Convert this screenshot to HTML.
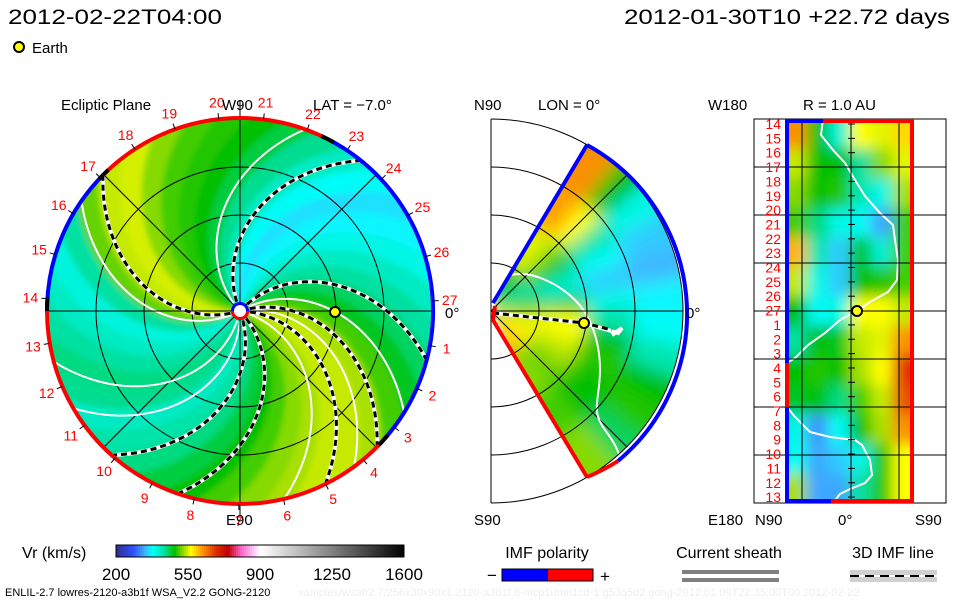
<!DOCTYPE html>
<html><head><meta charset="utf-8"><style>
html,body{margin:0;padding:0;background:#fff;}
svg{display:block;font-family:"Liberation Sans",sans-serif;}
</style></head><body>
<svg id="root" width="960" height="600" viewBox="0 0 960 600" xmlns="http://www.w3.org/2000/svg">
<defs>
  <filter id="blurL" x="-10%" y="-10%" width="120%" height="120%"><feGaussianBlur stdDeviation="3"/></filter>
  <filter id="blurM" x="-10%" y="-10%" width="120%" height="120%"><feGaussianBlur stdDeviation="9"/></filter>
  <filter id="blurR" x="-20%" y="-10%" width="140%" height="120%"><feGaussianBlur stdDeviation="7"/></filter>
  <clipPath id="clipL"><circle cx="240" cy="311" r="193"/></clipPath>
  <clipPath id="clipM"><path d="M491,311 L587,145 A192,192 0 0 1 587,477 Z"/></clipPath>
  <clipPath id="clipR"><rect x="785" y="119" width="129" height="384"/></clipPath>
</defs>
<g font-size="21" fill="#000">
  <text x="8" y="24" textLength="214" lengthAdjust="spacingAndGlyphs">2012-02-22T04:00</text>
  <text x="624" y="24" textLength="326" lengthAdjust="spacingAndGlyphs">2012-01-30T10 +22.72 days</text>
</g>
<g>
  <circle cx="19" cy="47" r="5" fill="#ffff00" stroke="#000" stroke-width="2"/>
  <text x="32" y="53" font-size="15">Earth</text>
</g>
<g id="left"></g>
<g id="mid"></g>
<g id="right"></g>
<g id="bottom"></g>
</svg>
<script>
// ---------- data ----------
const colorStops = [[200,'#303090'],[280,'#3050ff'],[340,'#40b8ff'],[375,'#00ffff'],[430,'#00e0a0'],[480,'#00c000'],[530,'#a8e000'],[560,'#ffff00'],[610,'#ffa000'],[680,'#e03000'],[740,'#c00000'],[800,'#ff60c0'],[870,'#ffd0ff'],[900,'#ffffff'],[1600,'#000000']];
const colorbarTicks = [200,550,900,1250,1600];
// ecliptic speed by footpoint longitude (10 deg bins starting 0)
const eclipticSpeeds = [540,530,500,470,450,430,410,390,370,360,380,410,435,460,480,490,500,520,545,540,510,430,395,410,430,440,435,410,425,440,460,480,500,520,530,540];
const dashedBoundaries = [197,290,313,358,17,47,113];
const whiteBoundaries = [132,207,257,272,345,8,30];
const carringtonLabels = [27,1,2,3,4,5,6,7,8,9,10,11,12,13,14,15,16,17,18,19,20,21,22,23,24,25,26];
// meridional cells: rows lat 60..-60 (10 deg), cols radial bins (48 px)
const meridSpeeds = [
 [480,550,610,620],[490,520,560,480],[400,480,430,390],[430,420,380,350],
 [470,400,350,340],[500,480,390,370],[540,560,430,380],[550,560,480,420],
 [560,540,490,480],[580,530,480,490],[560,500,480,450],[600,520,500,520]];
// 1 AU sphere cells: 13 rows (top W180 -> E180) x 6 cols (N90 -> S90)
const sphereSpeeds = [
 [620,480,400,560,550,580],[540,480,480,430,520,550],[520,480,490,420,390,530],
 [500,440,390,380,330,500],[600,420,350,470,400,500],[540,390,350,480,490,500],
 [480,380,390,560,560,540],[430,480,470,540,550,620],[480,490,480,530,560,680],
 [470,480,440,500,540,660],[390,320,380,480,530,620],[380,330,350,390,490,560],
 [530,330,330,430,490,560]];
// ---------- helpers ----------
const NS='http://www.w3.org/2000/svg';
function hex(h){return [parseInt(h.substr(1,2),16),parseInt(h.substr(3,2),16),parseInt(h.substr(5,2),16)];}
function vColor(v){
  if(v<=colorStops[0][0]) return colorStops[0][1];
  for(let i=1;i<colorStops.length;i++){
    if(v<=colorStops[i][0]){
      const a=colorStops[i-1],b=colorStops[i],t=(v-a[0])/(b[0]-a[0]);
      const ca=hex(a[1]),cb=hex(b[1]);
      return 'rgb('+ca.map((c,j)=>Math.round(c+(cb[j]-c)*t)).join(',')+')';
    }
  }
  return colorStops[colorStops.length-1][1];
}
function el(tag,attrs,parent){const e=document.createElementNS(NS,tag);for(const k in attrs)e.setAttribute(k,attrs[k]);if(parent)parent.appendChild(e);return e;}
function txt(parent,x,y,s,size,fill,anchor){const t=el('text',{x:x,y:y,'font-size':size,fill:fill||'#000','text-anchor':anchor||'start'},parent);t.textContent=s;return t;}
const rad=d=>d*Math.PI/180;

// ---------- left ecliptic panel ----------
const L=document.getElementById('left');
const cx=240,cy=311,R=193,K=0.32;
const pol=(r,a)=>[cx+r*Math.cos(rad(a)),cy-r*Math.sin(rad(a))];
const spiralPts=(phi0,r0,r1)=>{const p=[];for(let r=r0;r<=r1;r+=4)p.push(pol(r,phi0-K*r));return p;};
const lclip=el('g',{'clip-path':'url(#clipL)'},L);
const field=el('g',{filter:'url(#blurL)'},lclip);
el('circle',{cx:cx,cy:cy,r:R+10,fill:vColor(440)},field);
eclipticSpeeds.forEach((v,i)=>{
  const a=i*10-1,b=i*10+11;
  const pts=spiralPts(a,0,R+16).concat(spiralPts(b,0,R+16).reverse());
  const p=el('polygon',{points:pts.map(q=>q.join(',')).join(' '),fill:vColor(v)},field);
  
  
});
const grid=el('g',{stroke:'#000','stroke-width':1,fill:'none'},lclip);
[48,96,144].forEach(r=>el('circle',{cx:cx,cy:cy,r:r},grid));
[45,135].forEach(a=>{const p1=pol(R,a),p2=pol(R,a+180);el('line',{x1:p1[0],y1:p1[1],x2:p2[0],y2:p2[1]},grid);});
whiteBoundaries.forEach(phi0=>{
  const p=el('polyline',{points:spiralPts(phi0,10,R+4).map(q=>q.join(',')).join(' '),fill:'none',stroke:'#fff','stroke-width':2},lclip);
  
  
});
dashedBoundaries.forEach(phi0=>{
  const pts=spiralPts(phi0,10,R+4).map(q=>q.join(',')).join(' ');
  el('polyline',{points:pts,fill:'none',stroke:'#fff','stroke-width':4},lclip);
  const p=el('polyline',{points:pts,fill:'none',stroke:'#000','stroke-width':3,'stroke-dasharray':'6,4'},lclip);
  
  
});
el('line',{x1:cx-R,y1:cy,x2:cx+R,y2:cy,stroke:'#000'},L);
el('line',{x1:cx,y1:100,x2:cx,y2:515,stroke:'#000'},L);
function arc(r,a1,a2,color,w,parent){const p1=pol(r,a1),p2=pol(r,a2);const large=Math.abs(a2-a1)>180?1:0;
  return el('path',{d:`M${p1[0]},${p1[1]} A${r},${r} 0 ${large} ${a2>a1?0:1} ${p2[0]},${p2[1]}`,fill:'none',stroke:color,'stroke-width':w},parent);}
const bnd=el('g',{},L);
arc(R,63,135,'#ff0000',4,bnd);arc(R,135,178,'#0000ff',4,bnd);arc(R,178,318,'#ff0000',4,bnd);arc(R,-42,63,'#0000ff',4,bnd);
[63,135,178,318].forEach(a=>arc(R,a-2,a+2,'#000',4,bnd));
carringtonLabels.forEach((n,i)=>{
  const a=3-i*360/27;
  const t1=pol(R,a),t2=pol(R+6,a);
  el('line',{x1:t1[0],y1:t1[1],x2:t2[0],y2:t2[1],stroke:'#000'},L);
  const p=pol(R+17,a);
  const t=txt(L,p[0],p[1]+5,String(n),14,'#ff0000','middle');
  
  
});
el('circle',{cx:cx,cy:cy,r:9,fill:'#0000ff'},L);
el('path',{d:`M${cx-9},${cy} A9,9 0 0 0 ${cx+9},${cy} Z`,fill:'#ff0000'},L);
el('circle',{cx:cx,cy:cy,r:6,fill:'#fff',},L);
el('circle',{cx:335,cy:312,r:5,fill:'#ffff00',stroke:'#000','stroke-width':2,},L);
txt(L,61,110,'Ecliptic Plane',15);txt(L,222,110,'W90',15);txt(L,313,110,'LAT = −7.0°',15);
txt(L,226,525,'E90',15);txt(L,445,318,'0°',15);

// ---------- middle meridional panel ----------
const M=document.getElementById('mid');
const mx=491,my=311;
const mpol=(r,a)=>[mx+r*Math.cos(rad(a)),my-r*Math.sin(rad(a))];
function sector(r1,r2,a1,a2){const p1=mpol(r1,a1),p2=mpol(r2,a1),p3=mpol(r2,a2),p4=mpol(r1,a2);
  return `M${p1[0]},${p1[1]} L${p2[0]},${p2[1]} A${r2},${r2} 0 0 0 ${p3[0]},${p3[1]} L${p4[0]},${p4[1]} A${r1},${r1} 0 0 1 ${p1[0]},${p1[1]} Z`;}
const mclip=el('g',{'clip-path':'url(#clipM)'},M);
const mf=el('g',{filter:'url(#blurM)'},mclip);
meridSpeeds.forEach((row,i)=>{
  row.forEach((v,j)=>{
    let a2=60-i*10,a1=a2-10;if(i===0)a2+=25;if(i===meridSpeeds.length-1)a1-=25;
    let r1=j*48,r2=(j+1)*48;if(j===row.length-1)r2+=30;
    const p=el('path',{d:sector(Math.max(r1,0.1),r2,a1,a2),fill:vColor(v)},mf);
    
    
  });
});
[48,96,144,192].forEach(r=>el('path',{d:`M${mx},${my-r} A${r},${r} 0 0 1 ${mx},${my+r}`,fill:'none',stroke:'#000'},M));
el('line',{x1:mx,y1:119,x2:mx,y2:503,stroke:'#000'},M);
el('line',{x1:mx,y1:my,x2:683,y2:my,stroke:'#000'},M);
[45,-45].forEach(a=>{const p=mpol(192,a);el('line',{x1:mx,y1:my,x2:p[0],y2:p[1],stroke:'#000'},mclip);});
el('path',{d:'M508,276 C530,268 560,285 575,300 S600,340 600,370 S590,410 605,430 S618,455 622,462',fill:'none',stroke:'#fff','stroke-width':2,},mclip);
el('polyline',{points:'493,313 584,323 618,333 622,328 612,335',fill:'none',stroke:'#fff','stroke-width':4},mclip);
el('polyline',{points:'493,313 584,323 612,330',fill:'none',stroke:'#000','stroke-width':3,'stroke-dasharray':'6,4',},mclip);
const mb=el('g',{},M);
el('polyline',{points:'493,303 587,145',fill:'none',stroke:'#0000ff','stroke-width':4},mb);
el('path',{d:'M587,145 A192,192 0 0 1 618,461',fill:'none',stroke:'#0000ff','stroke-width':4},mb);
el('path',{d:'M618,461 A192,192 0 0 1 587,477',fill:'none',stroke:'#ff0000','stroke-width':4},mb);
el('polyline',{points:'587,477 493,320 495,306',fill:'none',stroke:'#ff0000','stroke-width':4},mb);
el('circle',{cx:584,cy:323,r:5,fill:'#ffff00',stroke:'#000','stroke-width':2,},M);
txt(M,474,110,'N90',15);txt(M,538,110,'LON = 0°',15);txt(M,474,525,'S90',15);txt(M,686,318,'0°',15);

// ---------- right 1 AU panel ----------
const Rg=document.getElementById('right');
const x0=785,w=129,y0=119,h=384;
el('rect',{x:754,y:119,width:192,height:384,fill:'none',stroke:'#000'},Rg);
const rclip=el('g',{'clip-path':'url(#clipR)'},Rg);
const rf=el('g',{filter:'url(#blurR)'},rclip);
const cw=w/6,ch=h/sphereSpeeds.length;
sphereSpeeds.forEach((row,i)=>row.forEach((v,j)=>{
  let x=x0+j*cw,y=y0+i*ch,ww=cw+0.5,hh=ch+0.5;
  if(j===0){x-=20;ww+=20;} if(j===5){ww+=20;}
  if(i===0){y-=20;hh+=20;} if(i===sphereSpeeds.length-1){hh+=20;}
  const r=el('rect',{x:x,y:y,width:ww,height:hh,fill:vColor(v)},rf);
  
  
}));
el('polyline',{points:'823,119 821,135 833,150 845,163 855,180 865,196 880,213 893,225 895,240 898,260 897,280 888,292 870,302 855,312 840,320 825,333 808,345 795,358 787,363',fill:'none',stroke:'#fff','stroke-width':2,},rclip);
el('polyline',{points:'787,407 795,417 810,432 830,437 855,440 862,445 870,460 872,475 865,483 850,489 840,494 833,503',fill:'none',stroke:'#fff','stroke-width':2},rclip);
[167,215,263,311,359,407,455].forEach(y=>el('line',{x1:754,y1:y,x2:946,y2:y,stroke:'#000'},Rg));
[802,851,899].forEach(x=>el('line',{x1:x,y1:119,x2:x,y2:503,stroke:'#000'},Rg));
carringtonLabels.forEach((n,i)=>{
  const k=(i+13)%27;
  const y=124+k*14.35;
  el('line',{x1:848,y1:y,x2:855,y2:y,stroke:'#000'},Rg);
  const t=txt(Rg,781,y+5,String(n),14,'#ff0000','end');
  
  
});
const rb=el('g',{'fill':'none','stroke-width':4},Rg);
el('line',{x1:787,y1:119,x2:787,y2:363,stroke:'#0000ff'},rb);
el('line',{x1:787,y1:363,x2:787,y2:407,stroke:'#ff0000'},rb);
el('line',{x1:787,y1:407,x2:787,y2:503,stroke:'#0000ff'},rb);
el('line',{x1:785,y1:121,x2:823,y2:121,stroke:'#0000ff'},rb);
el('line',{x1:823,y1:121,x2:914,y2:121,stroke:'#ff0000'},rb);
el('line',{x1:785,y1:501,x2:831,y2:501,stroke:'#0000ff'},rb);
el('line',{x1:831,y1:501,x2:914,y2:501,stroke:'#ff0000'},rb);
el('line',{x1:912,y1:119,x2:912,y2:503,stroke:'#ff0000'},rb);
el('circle',{cx:857,cy:311,r:5,fill:'#ffff00',stroke:'#000','stroke-width':2,},Rg);
txt(Rg,708,110,'W180',15);txt(Rg,803,110,'R = 1.0 AU',15);
txt(Rg,708,525,'E180',15);txt(Rg,755,525,'N90',15);txt(Rg,838,525,'0°',15);txt(Rg,915,525,'S90',15);

// ---------- bottom legends ----------
const B=document.getElementById('bottom');
txt(B,22,558,'Vr (km/s)',16);
const cbx=116,cbw=288,cby=545,cbh=12;
const cb=el('g',{},B);
for(let i=0;i<cbw;i+=2){const v=200+(i/cbw)*1400;el('rect',{x:cbx+i,y:cby,width:2.5,height:cbh,fill:vColor(v)},cb);}
el('rect',{x:cbx,y:cby,width:cbw,height:cbh,fill:'none',stroke:'#000'},cb);
colorbarTicks.forEach(v=>{const x=cbx+(v-200)/1400*cbw;
  const t=txt(B,x,580,String(v),17,'#000','middle');
  
  });
txt(B,5,596,'ENLIL-2.7 lowres-2120-a3b1f WSA_V2.2 GONG-2120',11);
txt(B,298,596,'xamples/wsafr2.7/256x30x90x1.2120-a3b1f.8-mcp1umn1cd-1.g53q5d2.gong-2012:01:09T22:35:00T00    2012-02-22',11,'#eeeeee');
txt(B,547,558,'IMF polarity',16,'#000','middle');
txt(B,487,581,'−',17);txt(B,600,582,'+',17);
el('rect',{x:502,y:569,width:46,height:12,fill:'#0000ff'},B);
el('rect',{x:548,y:569,width:45,height:12,fill:'#ff0000'},B);
el('rect',{x:502,y:569,width:91,height:12,fill:'none',stroke:'#000',},B);
txt(B,729,558,'Current sheath',16,'#000','middle');
el('rect',{x:682,y:570,width:97,height:4,fill:'#808080',},B);
el('rect',{x:682,y:578,width:97,height:4,fill:'#808080'},B);
txt(B,893,558,'3D IMF line',16,'#000','middle');
el('rect',{x:850,y:570,width:87,height:12,fill:'#d0d0d0',},B);
el('line',{x1:850,y1:576,x2:937,y2:576,stroke:'#fff','stroke-width':2},B);
el('line',{x1:850,y1:576,x2:937,y2:576,stroke:'#000','stroke-width':2,'stroke-dasharray':'9,6'},B);
</script>
</body></html>
